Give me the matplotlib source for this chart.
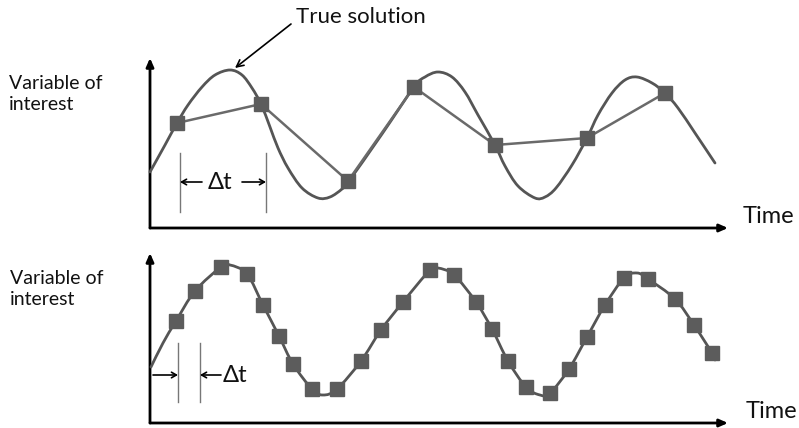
import matplotlib
matplotlib.use("Agg")
import matplotlib.pyplot as plt
from matplotlib.path import Path
from matplotlib.patches import PathPatch

# ---- data (pixel-like coordinates; y grows downward) ----
top_curve_x = [150, 165, 177, 188, 202, 215, 230, 242, 252, 261, 270, 278, 288, 302, 318, 330,
               342, 349, 382, 414, 425, 438, 452, 465, 478, 495, 505, 518, 535, 545, 556, 572,
               587, 598, 612, 625, 637, 652, 665, 678, 695, 715]
top_curve_y = [172, 145, 123, 105, 87, 75, 70, 75, 88, 104, 127, 148, 168, 188, 198, 197,
               189, 181, 134, 87, 77, 72, 77, 92, 115, 145, 166, 186, 198, 197, 188, 165,
               138, 115, 93, 80, 77, 83, 93, 108, 133, 163]
top_samples_x = [177, 261, 348, 414, 495, 587, 665]
top_samples_y = [123, 104, 181, 87, 145, 138, 93]

bottom_samples_x = [176, 195, 221, 247, 263, 279, 293, 312, 337, 361, 381, 403,
                    430, 454, 476, 492, 508, 526, 550, 569, 587, 605, 624, 648,
                    675, 694, 712]
bottom_samples_y = [321, 291, 267, 274, 305, 336, 364, 389, 389, 361, 330, 302,
                    270, 275, 302, 329, 361, 387, 393, 369, 337, 305, 278, 279,
                    299, 325, 353]
bottom_curve_x = [151, 163, 176, 195, 221, 230, 247, 263, 279, 293, 312, 323, 337, 361, 381, 403,
                  430, 438, 454, 476, 492, 508, 526, 540, 550, 569, 587, 605, 624, 637, 648,
                  675, 694, 712, 715]
bottom_curve_y = [367, 343, 321, 291, 267, 265, 274, 305, 336, 364, 389, 395, 389, 361, 330, 302,
                  270, 268, 275, 302, 329, 361, 387, 395, 393, 369, 337, 305, 278, 273, 279,
                  299, 325, 353, 360]

axis_label = "Variable of\ninterest"
time_label = "Time"
true_label = "True solution"
dt_label = "\u0394t"

# ---- figure ----
W, H = 799, 428
fig = plt.figure(figsize=(W / 100, H / 100), dpi=100)
ax = fig.add_axes([0, 0, 1, 1])
ax.set_xlim(0, W)
ax.set_ylim(H, 0)
ax.axis("off")

FONT = ["Lato", "DejaVu Sans"]
curve_c = "#555555"
samp_c = "#5c5c5c"
line_c = "#6a6a6a"


def smooth_path(xs, ys):
    """Bezier path passing through the read points (Catmull-Rom tangents)."""
    pts = list(zip(xs, ys))
    verts = [pts[0]]
    codes = [Path.MOVETO]
    n = len(pts)
    for i in range(n - 1):
        p0 = pts[i - 1] if i > 0 else pts[i]
        p1 = pts[i]
        p2 = pts[i + 1]
        p3 = pts[i + 2] if i + 2 < n else pts[i + 1]
        c1 = (p1[0] + (p2[0] - p0[0]) / 6.0, p1[1] + (p2[1] - p0[1]) / 6.0)
        c2 = (p2[0] - (p3[0] - p1[0]) / 6.0, p2[1] - (p3[1] - p1[1]) / 6.0)
        verts += [c1, c2, p2]
        codes += [Path.CURVE4] * 3
    return Path(verts, codes)


def draw_curve(xs, ys):
    patch = PathPatch(smooth_path(xs, ys), facecolor="none", edgecolor=curve_c, lw=2.0,
                      capstyle="round", joinstyle="round", zorder=3)
    ax.add_patch(patch)


def axes_arrows(x0, y0, ytop, xright):
    kw = dict(arrowstyle="-|>,head_length=0.5,head_width=0.22", color="black", lw=2.0,
              shrinkA=0, shrinkB=0)
    ax.annotate("", xy=(x0, ytop), xytext=(x0, y0), arrowprops=kw)
    ax.annotate("", xy=(xright, y0), xytext=(x0, y0), arrowprops=kw)


# top panel
axes_arrows(150, 228, 58, 728)
draw_curve(top_curve_x, top_curve_y)
ax.plot(top_samples_x, top_samples_y, color=line_c, lw=1.8, marker="s", markersize=9.5,
        markerfacecolor=samp_c, markeredgecolor=samp_c, zorder=4)

# bottom panel
axes_arrows(150, 423, 253, 728)
draw_curve(bottom_curve_x, bottom_curve_y)
ax.plot(bottom_samples_x, bottom_samples_y, ls="none", marker="s", markersize=10,
        markerfacecolor=samp_c, markeredgecolor=samp_c, zorder=4)

# labels
ax.text(9, 94, axis_label, fontsize=14, family=FONT, ha="left", va="center",
        linespacing=1.35, color="#111111")
ax.text(10, 289, axis_label, fontsize=14, family=FONT, ha="left", va="center",
        linespacing=1.35, color="#111111")
ax.text(743, 216, time_label, fontsize=17, family=FONT, ha="left", va="center", color="#111111")
ax.text(746, 412, time_label, fontsize=17, family=FONT, ha="left", va="center", color="#111111")
ax.text(296, 17, true_label, fontsize=16, family=FONT, ha="left", va="center", color="#111111")
ax.annotate("", xy=(235, 68), xytext=(291, 24),
            arrowprops=dict(arrowstyle="->,head_length=0.5,head_width=0.25", color="black",
                            lw=1.2, shrinkA=0, shrinkB=0))

# delta t, top
for xv in (180, 266):
    ax.plot([xv, xv], [153, 212], color="#777777", lw=1.0)
ax.text(220, 182, dt_label, fontsize=17, family=FONT, ha="center", va="center", color="#111111")
dkw = dict(arrowstyle="->,head_length=0.35,head_width=0.2", color="black", lw=1.2,
           shrinkA=0, shrinkB=0)
ax.annotate("", xy=(180, 182), xytext=(202, 182), arrowprops=dkw)
ax.annotate("", xy=(266, 182), xytext=(242, 182), arrowprops=dkw)

# delta t, bottom
for xv in (178, 200):
    ax.plot([xv, xv], [343, 402], color="#777777", lw=1.0)
ax.annotate("", xy=(178, 375), xytext=(153, 375), arrowprops=dkw)
ax.annotate("", xy=(200, 375), xytext=(221, 375), arrowprops=dkw)
ax.text(223, 375, dt_label, fontsize=17, family=FONT, ha="left", va="center", color="#111111")

fig.savefig("out.png", dpi=100)
